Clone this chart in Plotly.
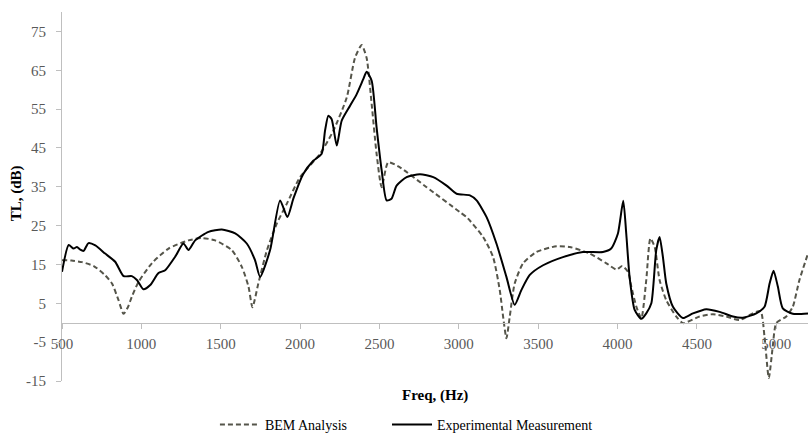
import plotly.graph_objects as go

# BEM Analysis (dashed)
bem_f = [500, 560, 626, 700, 770, 815, 856, 888, 915, 940, 982, 1066, 1171, 1297, 1381, 1465,
         1570, 1633, 1675, 1700, 1737, 1790, 1853, 1916, 2000, 2126, 2209, 2294, 2346, 2388,
         2419, 2451, 2482, 2514, 2555, 2629, 2797, 3006, 3049, 3153, 3216, 3258, 3279, 3300,
         3321, 3352, 3405, 3489, 3615, 3699, 3825, 3930, 3993, 4030, 4066, 4087, 4119, 4150,
         4181, 4207, 4234, 4265, 4307, 4370, 4412, 4517, 4601, 4685, 4769, 4852, 4901, 4926,
         4953, 4978, 5000, 5063, 5104, 5146, 5200]
bem_tl = [16.1, 16.0, 15.6, 14.6, 12.3, 10.1, 5.8, 2.3, 4.0, 6.7, 10.5, 15.3, 19.1, 21.2, 21.8, 21.2,
          18.7, 14.4, 9.3, 4.0, 10.1, 18.5, 25.5, 30.6, 37.5, 43.5, 49.4, 58.0, 68.2, 71.5,
          68.2, 56.3, 43.5, 34.9, 41.3, 40.0, 34.9, 28.5, 27.2, 22.1, 16.9, 8.4, 1.6, -4.0,
          1.6, 10.1, 15.3, 18.2, 19.7, 19.5, 17.8, 15.3, 13.7, 14.6, 13.1, 9.3, 4.1, 1.2,
          11.0, 21.7, 19.5, 11.0, 5.8, 1.6, -0.1, 1.6, 2.2, 1.6, 0.7, 2.4, 3.0, -3.6,
          -14.2, -6.1, -0.1, 1.6, 4.1, 11.0, 17.8]

# Experimental Measurement (solid)
exp_f = [500, 542, 573, 594, 615, 636, 667, 710, 772, 835, 888, 940, 972, 1013, 1056, 1108,
         1150, 1213, 1265, 1297, 1339, 1423, 1507, 1591, 1664, 1716, 1748, 1811, 1874, 1920,
         1958, 2020, 2083, 2136, 2157, 2178, 2199, 2231, 2262, 2314, 2356, 2398, 2419, 2451,
         2482, 2514, 2545, 2576, 2608, 2671, 2755, 2839, 2923, 2986, 3070, 3112, 3175, 3237,
         3300, 3352, 3394, 3447, 3531, 3656, 3782, 3908, 3960, 4002, 4036, 4055, 4076, 4108,
         4150, 4181, 4213, 4244, 4265, 4286, 4307, 4349, 4412, 4475, 4559, 4643, 4727, 4790,
         4874, 4926, 4958, 4983, 5010, 5041, 5104, 5200]
exp_tl = [13.1, 20.0, 19.1, 19.5, 18.8, 18.5, 20.5, 19.9, 17.8, 15.7, 12.0, 12.0, 11.0, 8.6, 9.7, 12.8,
          13.5, 17.0, 20.4, 18.7, 21.2, 23.4, 24.0, 23.0, 20.4, 16.1, 11.8, 18.7, 31.5, 27.2,
          32.0, 38.3, 41.7, 43.5, 49.4, 53.3, 52.4, 45.6, 52.0, 55.8, 58.8, 62.7, 64.6, 62.3,
          50.3, 39.2, 31.5, 31.9, 35.3, 37.5, 38.2, 37.5, 35.3, 33.2, 32.8, 31.5, 27.2, 20.4,
          11.8, 4.6, 8.4, 12.3, 14.8, 16.9, 18.2, 18.2, 19.1, 22.9, 31.4, 22.9, 11.8, 3.3,
          1.0, 2.4, 5.0, 18.7, 22.1, 16.9, 10.1, 4.1, 1.2, 2.4, 3.5, 2.8, 1.6, 1.3,
          2.4, 4.1, 10.1, 13.4, 9.3, 3.7, 2.3, 2.4]

x_ticks = [500, 1000, 1500, 2000, 2500, 3000, 3500, 4000, 4500, 5000]
y_ticks = [-15, -5, 5, 15, 25, 35, 45, 55, 65, 75]
y_range = [-15, 80]
x_range = [500, 5200]
series_names = ["BEM Analysis", "Experimental Measurement"]

FONT = "Liberation Serif"
TICK_COLOR = "#595959"
PAD = "\u00a0" * 10  # spacing between legend entries

fig = go.Figure()
fig.add_trace(go.Scatter(
    x=bem_f, y=bem_tl, mode="lines", name=series_names[0] + PAD,
    line=dict(color="#55554a", width=2, dash="5px,3px", shape="spline", smoothing=0.6),
))
fig.add_trace(go.Scatter(
    x=exp_f, y=exp_tl, mode="lines", name=series_names[1],
    line=dict(color="#000000", width=2, shape="spline", smoothing=0.6),
))

xpos = (0 - y_range[0]) / (y_range[1] - y_range[0])

fig.update_layout(
    width=808, height=434,
    margin=dict(l=62, r=0, t=12, b=53, autoexpand=False),
    paper_bgcolor="white", plot_bgcolor="white",
    font=dict(family=FONT, size=15, color=TICK_COLOR),
    showlegend=True,
    legend=dict(orientation="h", x=0.205, xanchor="left", y=-0.119, yanchor="middle",
                font=dict(family=FONT, size=14, color="#000000"),
                itemwidth=40, tracegroupgap=0),
    xaxis=dict(range=x_range, tickvals=x_ticks, showgrid=False, zeroline=False,
               showline=True, linecolor="#bfbfbf", linewidth=1,
               ticks="outside", ticklen=5, tickcolor="#bfbfbf",
               ticklabelstandoff=2,
               anchor="free", position=xpos,
               tickfont=dict(family=FONT, size=15, color=TICK_COLOR)),
    yaxis=dict(range=y_range, tickvals=y_ticks, ticktext=[str(v) for v in y_ticks],
               showgrid=False, zeroline=False,
               showline=True, linecolor="#bfbfbf", linewidth=1,
               ticks="outside", ticklen=5, tickcolor="#bfbfbf",
               ticklabelstandoff=7,
               tickfont=dict(family=FONT, size=15, color=TICK_COLOR)),
    annotations=[
        dict(text="<b>Freq, (Hz)</b>", xref="paper", yref="paper", x=0.5, y=-0.038,
             xanchor="center", yanchor="middle", showarrow=False,
             font=dict(family=FONT, size=15, color="#000000")),
        dict(text="<b>TL, (dB)</b>", xref="paper", yref="paper", x=-0.061, y=0.51,
             xanchor="center", yanchor="middle", textangle=-90, showarrow=False,
             font=dict(family=FONT, size=15, color="#000000")),
    ],
)

fig.write_html("out.html")
